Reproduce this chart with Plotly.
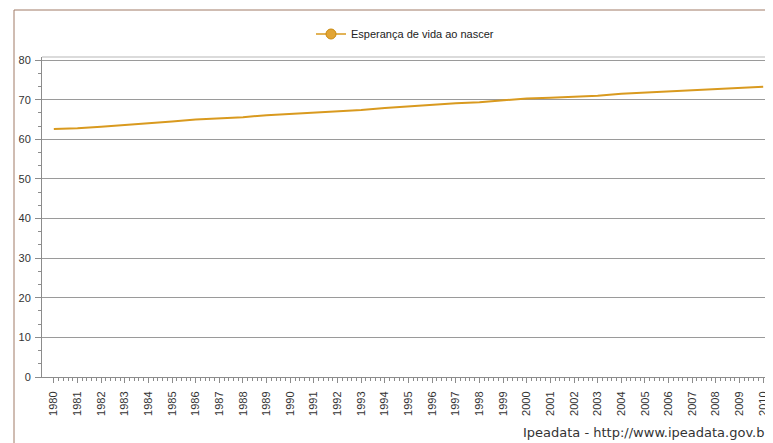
import plotly.graph_objects as go

years = list(range(1980, 2011))
esperanca = [62.6, 62.8, 63.2, 63.6, 64.1, 64.5, 65.0, 65.3, 65.6, 66.1, 66.4,
             66.8, 67.1, 67.4, 67.9, 68.3, 68.8, 69.1, 69.4, 69.9, 70.3,
             70.5, 70.8, 71.0, 71.5, 71.8, 72.1, 72.4, 72.6, 72.9, 73.3]
series_name = "Esperança de vida ao nascer"
y_ticks = [0, 10, 20, 30, 40, 50, 60, 70, 80]
footer = "Ipeadata - http://www.ipeadata.gov.br"

LINE = "#D99A1F"
FONT = "Liberation Sans"

fig = go.Figure()
fig.add_trace(go.Scatter(
    x=years, y=esperanca, name=series_name, mode="lines",
    line=dict(color=LINE, width=2),
    showlegend=False,
))
# legend entry with marker
fig.add_trace(go.Scatter(
    x=[None], y=[None], name=series_name, mode="lines+markers",
    line=dict(color=LINE, width=1.5),
    marker=dict(color="#E2A535", size=10, line=dict(color="#C98A10", width=1)),
))

minor_vals = [y + k * 0.2 for y in years[:-1] for k in range(1, 5)]

# the page body adds an 8px offset; layout is laid out in reference pixels minus OFF
OFF = 8
W, H = 773, 443
L = 42 - OFF
T = 57 - OFF
B = H - (377 - OFF)
R = W - (775 - OFF)
pw, ph = W - L - R, H - T - B

def px_x(x):
    return (x - OFF - L) / pw

def px_y(y):
    return (H - B - (y - OFF)) / ph

fig.update_layout(
    width=W, height=H,
    margin=dict(l=L, r=R, t=T, b=B),
    paper_bgcolor="white", plot_bgcolor="white",
    font=dict(family=FONT, size=11, color="#333333"),
    showlegend=True,
    legend=dict(orientation="h", x=px_x(405), xanchor="center", y=px_y(34), yanchor="middle",
                font=dict(family=FONT, size=11, color="#222222"),
                bgcolor="rgba(0,0,0,0)"),
    xaxis=dict(
        range=[1979.5, 2010.5], tickmode="array", tickvals=years,
        ticktext=[str(y) for y in years], tickangle=-90,
        showgrid=False, zeroline=False,
        showline=True, linecolor="#8c8c8c", linewidth=1,
        ticks="outside", ticklen=5, tickcolor="#8c8c8c",
        ticklabelstandoff=4,
        minor=dict(tickmode="array", tickvals=minor_vals, ticks="outside",
                   ticklen=3, tickcolor="#8c8c8c", showgrid=False),
        tickfont=dict(family=FONT, size=11, color="#333333"),
        fixedrange=True,
    ),
    yaxis=dict(
        range=[0, 80.8], tickmode="array", tickvals=y_ticks,
        showgrid=True, gridcolor="#9a9a9a", gridwidth=1,
        zeroline=False,
        showline=True, linecolor="#8c8c8c", linewidth=1,
        ticks="outside", ticklen=6, tickcolor="#8c8c8c",
        ticklabelstandoff=2,
        minor=dict(dtick=10/3, tick0=0, ticks="outside", ticklen=3,
                   tickcolor="#8c8c8c", showgrid=False),
        tickfont=dict(family=FONT, size=11, color="#333333"),
        fixedrange=True,
    ),
    shapes=[
        # plot area top border
        dict(type="line", xref="paper", yref="paper", x0=0, x1=1.02, y0=1, y1=1,
             line=dict(color="#cfcfcf", width=1.5)),
        # outer brown frame
        dict(type="line", xref="paper", yref="paper", x0=px_x(14), x1=1.05,
             y0=px_y(10), y1=px_y(10), line=dict(color="#A07A66", width=1)),
        dict(type="line", xref="paper", yref="paper", x0=px_x(14), x1=px_x(14),
             y0=px_y(10), y1=px_y(470), line=dict(color="#A07A66", width=1)),
    ],
    annotations=[
        dict(text=footer, xref="paper", yref="paper", x=px_x(521), y=px_y(432),
             xanchor="left", yanchor="middle", showarrow=False,
             font=dict(family="DejaVu Sans", size=13, color="#333333")),
    ],
)

fig.write_html("out.html")
